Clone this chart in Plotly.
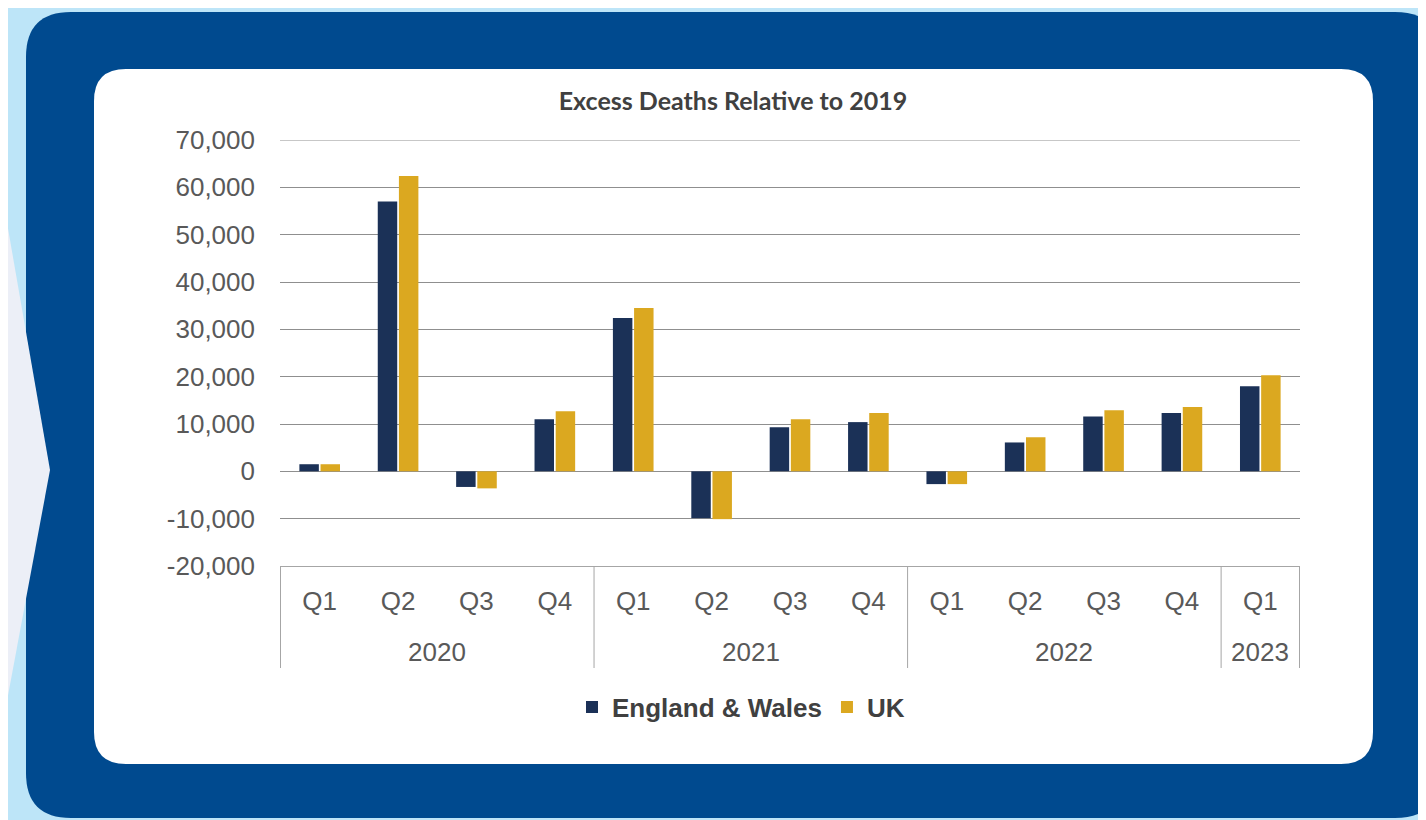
import plotly.graph_objects as go

# ---- data ----
years = ["2020"] * 4 + ["2021"] * 4 + ["2022"] * 4 + ["2023"]
quarters = ["Q1", "Q2", "Q3", "Q4", "Q1", "Q2", "Q3", "Q4", "Q1", "Q2", "Q3", "Q4", "Q1"]
england_wales = [1500, 57000, -3300, 11000, 32400, -9900, 9300, 10400, -2700, 6100, 11600, 12300, 18000]
uk = [1500, 62400, -3600, 12700, 34500, -10100, 11000, 12300, -2700, 7200, 12900, 13600, 20300]

y_tickvals = [-20000, -10000, 0, 10000, 20000, 30000, 40000, 50000, 60000, 70000]
y_ticktext = ["-20,000", "-10,000", "0", "10,000", "20,000", "30,000", "40,000", "50,000", "60,000", "70,000"]

title_text = "Excess Deaths Relative to 2019"
series_names = ["England & Wales", "UK"]

# unique category keys (year + quarter)
cat_keys = [f"{y} {q}" for y, q in zip(years, quarters)]
year_groups = ["2020", "2021", "2022", "2023"]

# ---- layout geometry (pixels, reference coords; the page adds an 8px body margin) ----
OFF = 8
W, H = 1426, 820
PL, PR, PT, PB = 280, 1300, 140, 566  # plot area in reference pixels


def px(x, y):
    return ((x - PL) / (PR - PL), (PB - y) / (PB - PT))


def rounded_rect(x0, y0, x1, y1, r):
    def P(x, y):
        a, b = px(x, y)
        return f"{a:.5f},{b:.5f}"
    d = f"M {P(x0 + r, y0)} L {P(x1 - r, y0)} Q {P(x1, y0)} {P(x1, y0 + r)} "
    d += f"L {P(x1, y1 - r)} Q {P(x1, y1)} {P(x1 - r, y1)} "
    d += f"L {P(x0 + r, y1)} Q {P(x0, y1)} {P(x0, y1 - r)} "
    d += f"L {P(x0, y0 + r)} Q {P(x0, y0)} {P(x0 + r, y0)} Z"
    return d


def poly(points):
    parts = []
    for i, (x, y) in enumerate(points):
        a, b = px(x, y)
        parts.append(("M " if i == 0 else "L ") + f"{a:.5f},{b:.5f}")
    return " ".join(parts) + " Z"


grid_color = "#8f8f8f"
shapes = [
    dict(type="path", xref="paper", yref="paper", layer="below",
         path=rounded_rect(26, 12, 1440, 818, 45), fillcolor="#004a8f", line=dict(width=0)),
    dict(type="path", xref="paper", yref="paper", layer="below",
         path=poly([(-10, 125), (50, 470), (-10, 792)]), fillcolor="#eceff7", line=dict(width=0)),
    dict(type="path", xref="paper", yref="paper", layer="below",
         path=rounded_rect(94, 69, 1373, 764, 32), fillcolor="#ffffff", line=dict(width=0)),
    # top gridline at the axis maximum
    dict(type="line", xref="paper", yref="y", x0=0, x1=1, y0=y_tickvals[-1], y1=y_tickvals[-1],
         line=dict(color=grid_color, width=1), layer="below"),
]

# category axis box: dividers at group boundaries (category index units)
div_color = "#a6a6a6"
y_box_bottom = px(0, 668)[1]
boundaries = []
idx = 0
group_centers = []
for g in year_groups:
    n = years.count(g)
    boundaries.append(idx - 0.5)
    group_centers.append(idx + (n - 1) / 2)
    idx += n
boundaries.append(idx - 0.5)
for b in boundaries:
    shapes.append(dict(type="line", xref="x", yref="paper", x0=b, x1=b, y0=0, y1=y_box_bottom,
                       line=dict(color=div_color, width=1), layer="above"))

annotations = []
for g, c in zip(year_groups, group_centers):
    annotations.append(dict(x=c, xref="x", y=px(0, 652)[1], yref="paper", text=g, showarrow=False,
                            xanchor="center", yanchor="middle",
                            font=dict(family="Liberation Sans", size=26, color="#595959")))

fig = go.Figure()
fig.add_trace(go.Bar(x=cat_keys, y=england_wales, name="<b>" + series_names[0] + "</b>",
                     marker=dict(color="#1b3157", line=dict(width=0))))
fig.add_trace(go.Bar(x=cat_keys, y=uk, name="<b>" + series_names[1] + "</b>",
                     marker=dict(color="#dba820", line=dict(width=0))))

fig.update_layout(
    width=W, height=H,
    autosize=False,
    paper_bgcolor="#bde5f8",
    plot_bgcolor="rgba(0,0,0,0)",
    margin=dict(l=PL - OFF, r=W - PR + OFF, t=PT - OFF, b=H - PB + OFF, pad=0),
    barmode="group",
    bargap=0.46,
    bargroupgap=0.08,
    shapes=shapes,
    annotations=annotations,
    title=dict(text="<b>" + title_text + "</b>", x=(733 - OFF) / W, xref="container", xanchor="center",
               y=1 - (101 - OFF) / H, yref="container", yanchor="middle",
               font=dict(family="Lato", size=25, color="#404040")),
    legend=dict(orientation="h", x=(741 - PL) / (PR - PL), xanchor="center",
                y=(PB - 707) / (PB - PT), yanchor="middle",
                font=dict(family="Liberation Sans", size=26, color="#404040"),
                bgcolor="rgba(0,0,0,0)", itemwidth=30, tracegroupgap=0),
    showlegend=True,
)

fig.update_yaxes(
    range=[-20000, 70000], tickvals=y_tickvals, ticktext=y_ticktext,
    showgrid=True, gridcolor=grid_color, gridwidth=1,
    zeroline=True, zerolinecolor=grid_color, zerolinewidth=1,
    showline=False, ticks="",
    tickfont=dict(family="Liberation Sans", size=26, color="#595959"),
    ticklabelstandoff=24,
)
fig.update_xaxes(
    type="category",
    tickmode="array", tickvals=cat_keys, ticktext=quarters,
    showline=True, linecolor="#a6a6a6", linewidth=1,
    ticks="", showgrid=False,
    tickfont=dict(family="Liberation Sans", size=26, color="#595959"),
    ticklabelstandoff=12,
)

fig.write_html("out.html")
